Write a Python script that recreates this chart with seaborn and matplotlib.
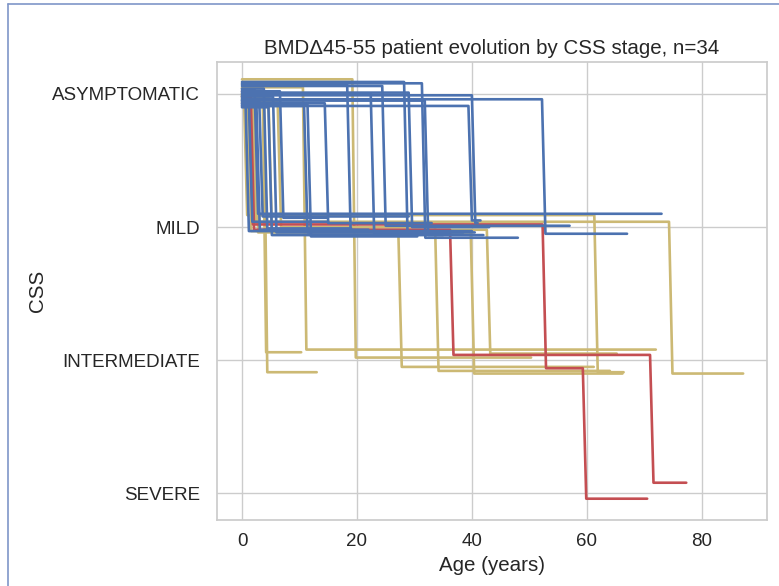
import pandas as pd
import numpy as np
import matplotlib
matplotlib.use('Agg')
import matplotlib.pyplot as plt
import seaborn as sns
from matplotlib.lines import Line2D

sns.set_theme(style="whitegrid", font_scale=1.23)
plt.rcParams['font.family'] = ['Liberation Sans', 'DejaVu Sans']

# CSS stage labels (0 = top of the axis)
stage_labels = ['ASYMPTOMATIC', 'MILD', 'INTERMEDIATE', 'SEVERE']
x_ticks = [0, 20, 40, 60, 80]

# each patient: ages = start of every stage + age at last visit,
# css = jittered stage level held during each stage
patient_ages = [
    # ended at MILD
    [0, 2.2, 73.0], [0, 52.2, 67.0], [0, 39.4, 41.5], [0, 31.3, 48.0],
    [0, 29.0, 43.0], [0, 3.0, 29.0], [0, 24.4, 57.0], [0, 1.2, 15.0],
    [0, 4.6, 35.0], [0, 5.4, 38.5], [0, 6.6, 14.8], [0, 11.4, 30.5],
    [0, 14.4, 33.0], [0, 18.3, 40.0], [0, 22.4, 36.0], [0, 28.2, 40.5],
    [0, 31.8, 42.0], [0, 40.0, 41.0], [0, 2.5, 22.0], [0, 3.8, 19.0],
    [0, 0.6, 12.0], [0, 10.8, 26.5],
    # ended at INTERMEDIATE
    [0, 3.6, 10.3], [0, 3.8, 13.0], [0, 10.6, 72.0], [0, 19.2, 50.3],
    [0, 1.0, 27.2, 61.2], [0, 6.2, 33.6, 64.0], [0, 2.2, 39.8, 66.2],
    [0, 4.6, 42.6, 65.2], [0, 0.3, 61.3, 66.4], [0, 1.8, 74.3, 87.2],
    # ended at SEVERE
    [0, 1.3, 52.3, 59.3, 70.5], [0, 1.5, 36.2, 71.0, 77.3],
]
patient_css = [
    [-0.03, 0.90], [0.04, 1.05], [0.09, 0.95], [-0.08, 1.08],
    [-0.01, 1.00], [0.05, 0.92], [-0.06, 0.99], [0.07, 0.96],
    [0.10, 1.06], [0.02, 1.04], [-0.02, 0.93], [0.08, 1.07],
    [0.07, 0.97], [-0.07, 1.03], [0.00, 1.05], [-0.09, 1.04],
    [0.05, 1.06], [0.01, 0.97], [0.06, 1.02], [-0.04, 1.01],
    [0.03, 1.03], [0.09, 1.04],
    [0.00, 1.94], [0.01, 2.09], [-0.05, 1.92], [-0.11, 1.98],
    [0.03, 1.03, 2.05], [0.06, 1.00, 2.08], [0.04, 1.04, 2.10],
    [0.02, 1.02, 1.95], [-0.04, 0.91, 2.09], [0.00, 0.96, 2.10],
    [0.02, 0.98, 2.06, 3.04], [-0.02, 1.02, 1.96, 2.92],
]

STEP = 0.6  # years taken by a drawn stage change

rows = []
for pid, (ages, css) in enumerate(zip(patient_ages, patient_css)):
    final = stage_labels[int(round(css[-1]))]
    pts = [(ages[0], css[0])]
    for i in range(1, len(css)):
        pts.append((ages[i], css[i - 1]))
        pts.append((ages[i] + STEP, css[i]))
    pts.append((ages[-1], css[-1]))
    for k, (a, c) in enumerate(pts):
        rows.append({'patient': pid, 'order': k, 'age': a, 'css': c, 'final': final})
df = pd.DataFrame(rows)

palette = {'MILD': '#4C72B0', 'INTERMEDIATE': '#CCB974', 'SEVERE': '#C44E52'}

fig = plt.figure(figsize=(7.79, 5.86), dpi=100)
ax = fig.add_axes([217 / 779, 1 - 520 / 586, 550 / 779, 458 / 586])
sns.lineplot(data=df, x='age', y='css', hue='final', units='patient', estimator=None,
             sort=False, palette=palette, hue_order=['INTERMEDIATE', 'SEVERE', 'MILD'],
             legend=False, lw=1.9, ax=ax)

ax.set_ylim(3.2, -0.24)
ax.set_xlim(-4.35, 91.35)
ax.set_yticks(range(len(stage_labels)))
ax.set_yticklabels(stage_labels)
ax.set_xticks(x_ticks)
ax.tick_params(axis='y', pad=6)
ax.set_xlabel('Age (years)')
ax.set_ylabel('CSS')
ax.set_title('BMD\u039445-55 patient evolution by CSS stage, n=34')

# screenshot frame
fig.add_artist(Line2D([7.5 / 779, 7.5 / 779], [0, 1 - 3.5 / 586], color='#7f96c8', lw=1.2))
fig.add_artist(Line2D([7.5 / 779, 1], [1 - 3.5 / 586, 1 - 3.5 / 586], color='#7f96c8', lw=1.2))

fig.savefig('out.png', dpi=100)
